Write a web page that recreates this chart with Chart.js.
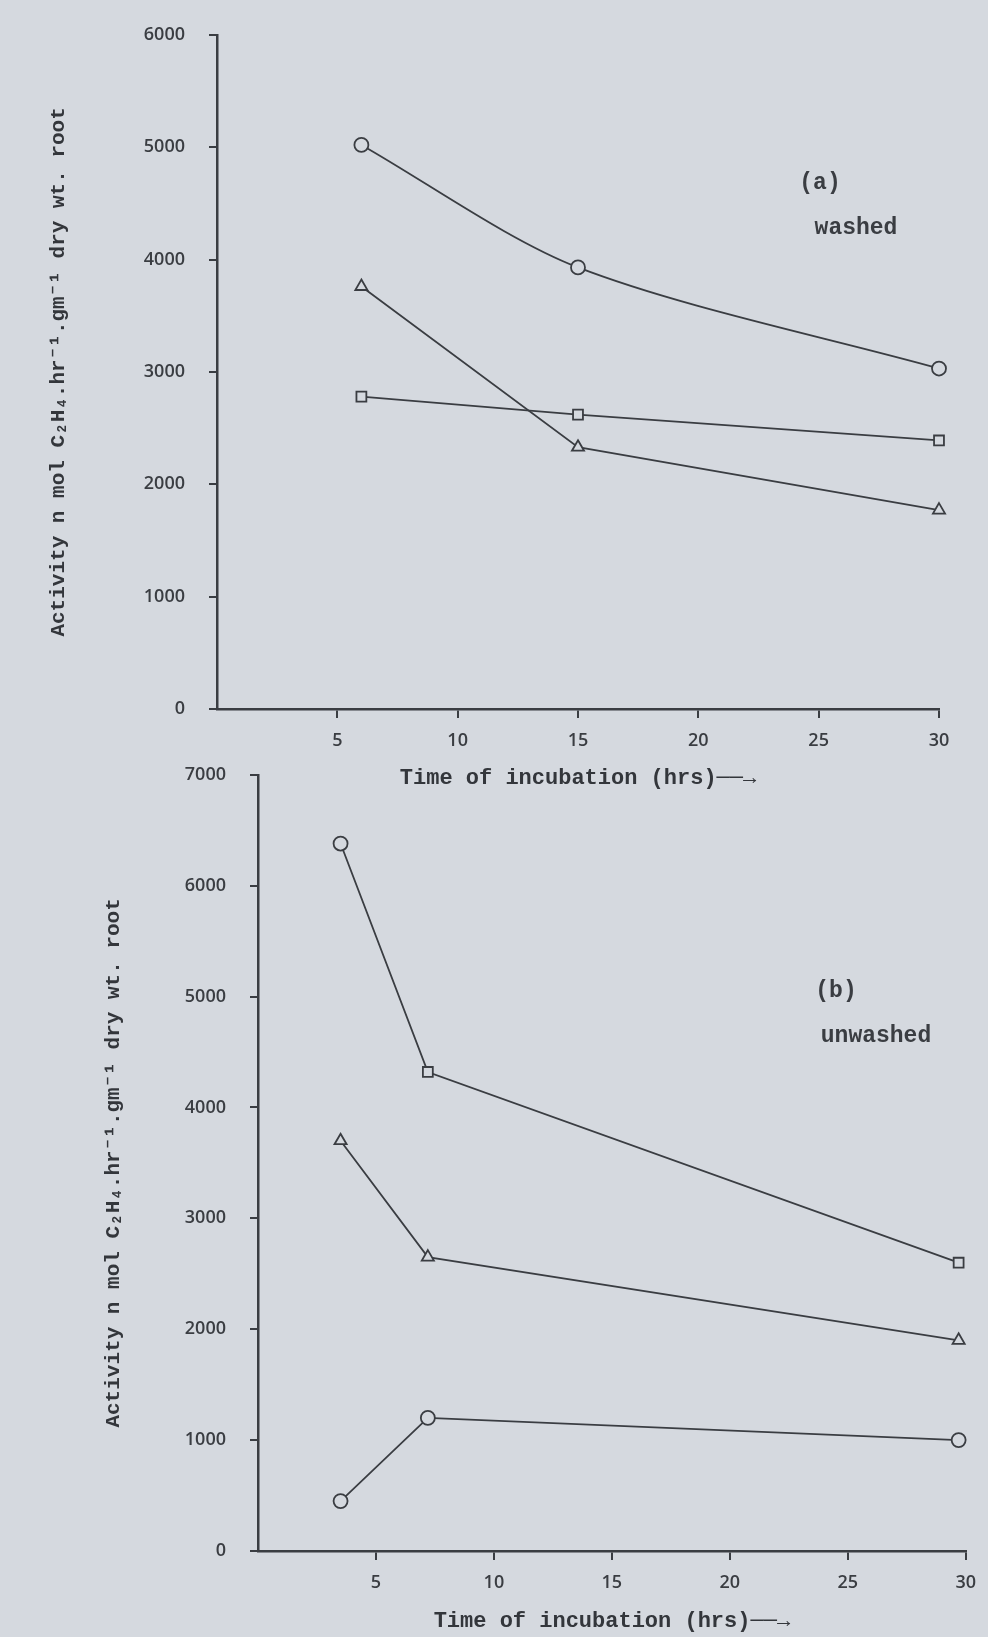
<!DOCTYPE html>
<html>
<head>
<meta charset="utf-8">
<title>Nitrogenase activity of washed and unwashed roots</title>
<script src="https://cdn.jsdelivr.net/npm/chart.js@4/dist/chart.umd.min.js"></script>
<style>
  body { margin: 0; background: #d5d9df; }
  #page { position: relative; width: 988px; height: 1637px; overflow: hidden; }
  .box { position: absolute; left: 0; width: 988px; }
  .lbl { position: absolute; transform: translate(-50%, -50%); font-family: "Liberation Mono", "DejaVu Sans Mono", monospace;
         font-size: 23px; font-weight: bold; color: #3a3d42; white-space: nowrap; }
</style>
</head>
<body>
<div id="page">
  <div class="box" style="top:0;height:800px"><canvas id="chartA"></canvas></div>
  <div class="box" style="top:740px;height:897px"><canvas id="chartB"></canvas></div>
  <div class="lbl" style="left:820px;top:183px">(a)</div>
  <div class="lbl" style="left:856px;top:228px">washed</div>
  <div class="lbl" style="left:836px;top:991px">(b)</div>
  <div class="lbl" style="left:876px;top:1036px">unwashed</div>
</div>
<script>
// readings taken off the figure (hrs of incubation vs activity)
const hoursA = [6, 15, 30];
const washedCircle = [5020, 3930, 3030];
const washedTriangle = [3760, 2330, 1770];
const washedSquare = [2780, 2620, 2390];

const hoursB = [3.5, 7.2, 29.7];
const unwashedSquare = [6380, 4320, 2600];
const unwashedTriangle = [3700, 2650, 1900];
const unwashedCircle = [450, 1200, 1000];

const xTicks = [5, 10, 15, 20, 25, 30];
const yTicksA = [0, 1000, 2000, 3000, 4000, 5000, 6000];
const yTicksB = [0, 1000, 2000, 3000, 4000, 5000, 6000, 7000];

const yTitle = 'Activity n mol C\u2082H\u2084.hr\u207B\u00B9.gm\u207B\u00B9 dry wt. root';
const xTitle = 'Time of incubation (hrs)\u2500\u2500\u2192';

const ink = '#3a3d42';
const paper = '#d5d9df';
const monoFont = '"Liberation Mono", "DejaVu Sans Mono", monospace';
const tickFont = { family: '"Open Sans", "Noto Sans", sans-serif', size: 18, weight: '600' };

function pts(xs, ys) {
    return xs.map(function(x, i) { return { x: x, y: ys[i] }; });
}

function series(xs, ys, style, curved) {
    return {
        data: pts(xs, ys),
        borderColor: ink,
        borderWidth: 1.8,
        pointStyle: style,
        pointRadius: 7,
        pointBorderWidth: 1.8,
        pointBorderColor: ink,
        pointBackgroundColor: paper,
        tension: curved ? 0.3 : 0,
        clip: false
    };
}

function makeChart(id, datasets, yTicks, yMax, sizes) {
    const ctx = document.getElementById(id).getContext('2d');
    return new Chart(ctx, {
        type: 'line',
        data: { datasets: datasets },
        options: {
            responsive: true,
            maintainAspectRatio: false,
            animation: false,
            layout: { padding: { left: sizes.padLeft, right: sizes.padRight, top: sizes.padTop, bottom: 0 } },
            plugins: { legend: { display: false }, tooltip: { enabled: false } },
            scales: {
                x: {
                    type: 'linear',
                    min: 0,
                    max: 30,
                    afterBuildTicks: function(axis) { axis.ticks = xTicks.map(function(v) { return { value: v }; }); },
                    afterFit: function(axis) { axis.height = sizes.xHeight; },
                    border: { display: true, color: ink, width: 2.5 },
                    grid: { display: true, drawOnChartArea: false, drawTicks: true, tickLength: 9, color: ink, lineWidth: 2 },
                    ticks: { color: '#3a3d42', font: tickFont, padding: 12, maxRotation: 0,
                             callback: function(v) { return String(v); } },
                    title: { display: true, text: xTitle, color: '#33363b',
                             font: { family: monoFont, size: 22, weight: 'bold' }, padding: { top: 0, bottom: sizes.xTitlePad } }
                },
                y: {
                    min: 0,
                    max: yMax,
                    afterBuildTicks: function(axis) { axis.ticks = yTicks.map(function(v) { return { value: v }; }); },
                    afterFit: function(axis) { axis.width = sizes.yWidth; },
                    border: { display: true, color: ink, width: 2.5 },
                    grid: { display: true, drawOnChartArea: false, drawTicks: true, tickLength: 8, color: ink, lineWidth: 2 },
                    ticks: { color: '#3a3d42', font: tickFont, padding: 24,
                             callback: function(v) { return String(v); } },
                    title: { display: true, text: yTitle, color: '#33363b',
                             font: { family: monoFont, size: 21, weight: 'bold' }, padding: { top: 6, bottom: 0 } }
                }
            }
        }
    });
}

makeChart('chartA', [
    series(hoursA, washedCircle, 'circle', true),
    series(hoursA, washedTriangle, 'triangle', false),
    series(hoursA, washedSquare, 'rect', false)
], yTicksA, 6000, { padLeft: 40, padRight: 49, padTop: 27, xHeight: 91, yWidth: 177, xTitlePad: 8 });

// first point of the top curve in (b) is printed with a circle marker
const topB = series(hoursB, unwashedSquare, ['circle', 'rect', 'rect'], false);
makeChart('chartB', [
    topB,
    series(hoursB, unwashedTriangle, 'triangle', false),
    series(hoursB, unwashedCircle, 'circle', false)
], yTicksB, 7000, { padLeft: 95, padRight: 13, padTop: 23, xHeight: 86, yWidth: 163, xTitlePad: 2 });
</script>
</body>
</html>
